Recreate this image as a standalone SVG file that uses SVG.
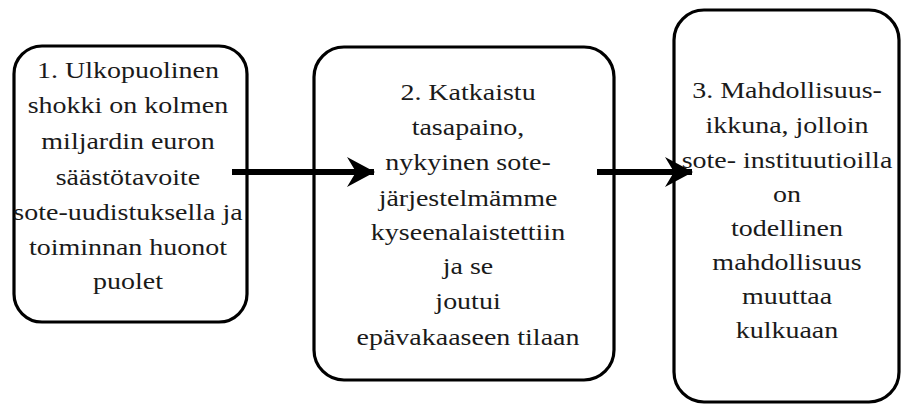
<svg xmlns="http://www.w3.org/2000/svg" width="902" height="406" viewBox="0 0 902 406">
<style>
.box{fill:#fff;stroke:#000;stroke-width:3.2}
.lbl{font-family:'Liberation Serif','DejaVu Serif','Times New Roman',serif;font-size:23px;fill:#1a1a1a;text-anchor:middle}
.conn{stroke:#000;stroke-width:6;fill:none}
</style>
<defs>
<marker id="ah" markerUnits="userSpaceOnUse" viewBox="0 0 28 30" refX="27" refY="15" markerWidth="28" markerHeight="30" orient="auto">
<path d="M0,0 L28,15 L0,30 L9,15 Z" fill="#000"/>
</marker>
</defs>
<rect width="902" height="406" fill="#fff"/>
<g id="node1">
<rect class="box" x="14" y="46" width="233" height="276" rx="28" ry="28"/>
<g transform="translate(128,0) scale(1.217,1)" font-family="Liberation Serif, DejaVu Serif, serif">
<text class="lbl" x="0" y="78">1. Ulkopuolinen</text>
<text class="lbl" x="0" y="113">shokki on kolmen</text>
<text class="lbl" x="0" y="149">miljardin euron</text>
<text class="lbl" x="0" y="185">säästötavoite</text>
<text class="lbl" x="0" y="220">sote-uudistuksella ja</text>
<text class="lbl" x="0" y="255">toiminnan huonot</text>
<text class="lbl" x="0" y="289">puolet</text>
</g>
</g>
<g id="node2">
<rect class="box" x="314" y="47" width="300" height="333" rx="30" ry="30"/>
<g transform="translate(468,0) scale(1.217,1)">
<text class="lbl" x="0" y="100">2. Katkaistu</text>
<text class="lbl" x="0" y="135">tasapaino,</text>
<text class="lbl" x="0" y="170">nykyinen sote-</text>
<text class="lbl" x="0" y="206">järjestelmämme</text>
<text class="lbl" x="0" y="240">kyseenalaistettiin</text>
<text class="lbl" x="0" y="274">ja se</text>
<text class="lbl" x="0" y="309">joutui</text>
<text class="lbl" x="0" y="345">epävakaaseen tilaan</text>
</g>
</g>
<g id="node3">
<rect class="box" x="674" y="10" width="225" height="392" rx="30" ry="30"/>
<g transform="translate(787,0) scale(1.217,1)">
<text class="lbl" x="0" y="98">3. Mahdollisuus-</text>
<text class="lbl" x="0" y="133">ikkuna, jolloin</text>
<text class="lbl" x="0" y="168">sote- instituutioilla</text>
<text class="lbl" x="0" y="202">on</text>
<text class="lbl" x="0" y="236">todellinen</text>
<text class="lbl" x="0" y="270">mahdollisuus</text>
<text class="lbl" x="0" y="304">muuttaa</text>
<text class="lbl" x="0" y="338">kulkuaan</text>
</g>
</g>
<g id="connectors">
<line class="conn" x1="232" y1="172" x2="374" y2="172" marker-end="url(#ah)"/>
<line class="conn" x1="597" y1="172" x2="692" y2="172" marker-end="url(#ah)"/>
</g>
</svg>
